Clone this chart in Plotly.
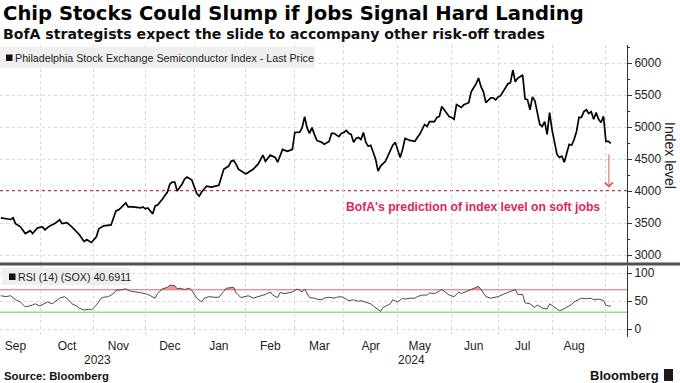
import plotly.graph_objects as go

# ---------------- data ----------------
PRICE_DATES = [
    "2023-09-08", "2023-09-12", "2023-09-14", "2023-09-15", "2023-09-18", "2023-09-20", "2023-09-22",
    "2023-09-26", "2023-09-27", "2023-09-29", "2023-10-03", "2023-10-04", "2023-10-06", "2023-10-10",
    "2023-10-12", "2023-10-13", "2023-10-17", "2023-10-19", "2023-10-23", "2023-10-24", "2023-10-26",
    "2023-10-27", "2023-10-31", "2023-11-02", "2023-11-03", "2023-11-07", "2023-11-10", "2023-11-13",
    "2023-11-14", "2023-11-15", "2023-11-16", "2023-11-20", "2023-11-21", "2023-11-24", "2023-11-28",
    "2023-11-29", "2023-11-30", "2023-12-01", "2023-12-04", "2023-12-05", "2023-12-06", "2023-12-07",
    "2023-12-08", "2023-12-12", "2023-12-13", "2023-12-14", "2023-12-15", "2023-12-18", "2023-12-19",
    "2023-12-20", "2023-12-22", "2023-12-26", "2023-12-27", "2023-12-29", "2024-01-02", "2024-01-03",
    "2024-01-04", "2024-01-05", "2024-01-09", "2024-01-11", "2024-01-16", "2024-01-17", "2024-01-19",
    "2024-01-23", "2024-01-24", "2024-01-25", "2024-01-26", "2024-01-29", "2024-02-01", "2024-02-06",
    "2024-02-08", "2024-02-12", "2024-02-13", "2024-02-15", "2024-02-20", "2024-02-21", "2024-02-23",
    "2024-02-27", "2024-02-29", "2024-03-01", "2024-03-05", "2024-03-06", "2024-03-07", "2024-03-08",
    "2024-03-11", "2024-03-12", "2024-03-13", "2024-03-14", "2024-03-18", "2024-03-19", "2024-03-21",
    "2024-03-22", "2024-03-25", "2024-03-27", "2024-03-28", "2024-04-01", "2024-04-02", "2024-04-03",
    "2024-04-04", "2024-04-05", "2024-04-08", "2024-04-09", "2024-04-10", "2024-04-11", "2024-04-12",
    "2024-04-15", "2024-04-16", "2024-04-17", "2024-04-18", "2024-04-19", "2024-04-22", "2024-04-24",
    "2024-04-25", "2024-04-29", "2024-04-30", "2024-05-01", "2024-05-02", "2024-05-03", "2024-05-06",
    "2024-05-08", "2024-05-10", "2024-05-13", "2024-05-14", "2024-05-16", "2024-05-17", "2024-05-20",
    "2024-05-22", "2024-05-23", "2024-05-24", "2024-05-28", "2024-05-30", "2024-05-31", "2024-06-03",
    "2024-06-04", "2024-06-05", "2024-06-07", "2024-06-10", "2024-06-12", "2024-06-13", "2024-06-14",
    "2024-06-17", "2024-06-18", "2024-06-20", "2024-06-21", "2024-06-24", "2024-06-26", "2024-06-27",
    "2024-06-28", "2024-07-01", "2024-07-02", "2024-07-03", "2024-07-05", "2024-07-08", "2024-07-09",
    "2024-07-10", "2024-07-11", "2024-07-12", "2024-07-15", "2024-07-16", "2024-07-17", "2024-07-18",
    "2024-07-19", "2024-07-22", "2024-07-23", "2024-07-24", "2024-07-25", "2024-07-26", "2024-07-29",
    "2024-07-30", "2024-07-31", "2024-08-01", "2024-08-02", "2024-08-05", "2024-08-06", "2024-08-07",
    "2024-08-08", "2024-08-09", "2024-08-12", "2024-08-13", "2024-08-14", "2024-08-15", "2024-08-16",
    "2024-08-19", "2024-08-20", "2024-08-21", "2024-08-22", "2024-08-23", "2024-08-26", "2024-08-27",
    "2024-08-28", "2024-08-29", "2024-08-30", "2024-09-03", "2024-09-04", "2024-09-05",
]
PRICE_VALUES = [
    3580, 3565, 3555, 3580, 3490, 3440, 3335,
    3380, 3335, 3425, 3440, 3395, 3455, 3490,
    3550, 3490, 3505, 3440, 3365, 3320, 3210,
    3240, 3195, 3285, 3410, 3455, 3470, 3582,
    3690, 3705, 3735, 3814, 3752, 3752, 3735,
    3735, 3752, 3721, 3735, 3690, 3643, 3767,
    3782, 3876, 3922, 3984, 4108, 4140, 4140,
    4000, 4108, 4186, 4217, 4170, 4060, 3960,
    3920, 3984, 4077, 4060, 4080, 4090, 4340,
    4390, 4465, 4480, 4420, 4340, 4265, 4340,
    4420, 4560, 4465, 4560, 4525, 4450, 4650,
    4620, 4650, 4915, 4920, 4990, 5160, 4990,
    4900, 4990, 4885, 4790, 4760, 4730, 4775,
    4900, 4900, 4850, 4900, 4915, 4945, 4900,
    4885, 4760, 4820, 4835, 4805, 4915, 4760,
    4700, 4715, 4605, 4495, 4310, 4390, 4465,
    4545, 4715, 4760, 4650, 4525, 4650, 4820,
    4790, 4775, 4835, 4885, 5040, 5010, 5085,
    5085, 5150, 5165, 5320, 5225, 5165, 5150,
    5120, 5350, 5305, 5350, 5380, 5550, 5610,
    5675, 5765, 5630, 5550, 5380, 5455, 5455,
    5425, 5470, 5490, 5550, 5630, 5675, 5690,
    5890, 5705, 5765, 5785, 5815, 5440, 5425,
    5270, 5470, 5410, 5195, 5040, 5010, 5085,
    4885, 5225, 4960, 4760, 4575, 4525, 4545,
    4450, 4575, 4730, 4715, 4805, 4930, 5150,
    5150, 5240, 5270, 5210, 5240, 5120, 5225,
    5120, 5070, 5165, 4775, 4775, 4745,
]

RSI_DATES = [
    "2023-09-08", "2023-09-12", "2023-09-14", "2023-09-18", "2023-09-20", "2023-09-22", "2023-09-27",
    "2023-09-28", "2023-10-02", "2023-10-04", "2023-10-05", "2023-10-09", "2023-10-11", "2023-10-12",
    "2023-10-16", "2023-10-18", "2023-10-19", "2023-10-23", "2023-10-24", "2023-10-26", "2023-10-30",
    "2023-10-31", "2023-11-02", "2023-11-06", "2023-11-07", "2023-11-09", "2023-11-13", "2023-11-14",
    "2023-11-16", "2023-11-20", "2023-11-22", "2023-11-27", "2023-11-29", "2023-12-04", "2023-12-06",
    "2023-12-07", "2023-12-08", "2023-12-12", "2023-12-14", "2023-12-15", "2023-12-19", "2023-12-20",
    "2023-12-21", "2023-12-26", "2023-12-28", "2023-12-29", "2024-01-03", "2024-01-05", "2024-01-08",
    "2024-01-10", "2024-01-12", "2024-01-17", "2024-01-19", "2024-01-22", "2024-01-25", "2024-01-26",
    "2024-01-30", "2024-02-01", "2024-02-02", "2024-02-06", "2024-02-08", "2024-02-13", "2024-02-15",
    "2024-02-16", "2024-02-21", "2024-02-22", "2024-02-26", "2024-02-28", "2024-02-29", "2024-03-04",
    "2024-03-06", "2024-03-07", "2024-03-11", "2024-03-13", "2024-03-14", "2024-03-18", "2024-03-19",
    "2024-03-21", "2024-03-25", "2024-03-26", "2024-03-28", "2024-04-02", "2024-04-03", "2024-04-05",
    "2024-04-09", "2024-04-10", "2024-04-12", "2024-04-16", "2024-04-17", "2024-04-22", "2024-04-23",
    "2024-04-26", "2024-04-29", "2024-05-01", "2024-05-03", "2024-05-06", "2024-05-08", "2024-05-10",
    "2024-05-13", "2024-05-15", "2024-05-17", "2024-05-20", "2024-05-22", "2024-05-23", "2024-05-28",
    "2024-05-30", "2024-05-31", "2024-06-04", "2024-06-06", "2024-06-07", "2024-06-11", "2024-06-13",
    "2024-06-14", "2024-06-18", "2024-06-20", "2024-06-24", "2024-06-26", "2024-06-27", "2024-07-01",
    "2024-07-03", "2024-07-05", "2024-07-09", "2024-07-11", "2024-07-12", "2024-07-16", "2024-07-17",
    "2024-07-19", "2024-07-23", "2024-07-24", "2024-07-26", "2024-07-30", "2024-07-31", "2024-08-02",
    "2024-08-06", "2024-08-07", "2024-08-09", "2024-08-13", "2024-08-14", "2024-08-16", "2024-08-19",
    "2024-08-21", "2024-08-23", "2024-08-26", "2024-08-28", "2024-08-30", "2024-09-03", "2024-09-04",
    "2024-09-05",
]
RSI_VALUES = [
    59.4, 57.8, 59.4, 52.2, 48.3, 39.4, 42.8,
    45.0, 41.1, 46.7, 48.3, 45.0, 52.2, 55.0,
    57.8, 50.6, 45.0, 41.1, 37.2, 33.9, 35.6,
    33.9, 42.8, 55.0, 56.7, 57.8, 63.3, 68.9,
    70.0, 71.7, 67.2, 66.1, 65.0, 61.7, 57.8,
    55.0, 63.3, 71.7, 74.4, 78.3, 77.2, 71.7,
    72.8, 70.6, 72.8, 68.9, 55.0, 48.3, 55.0,
    57.8, 56.7, 56.7, 67.2, 72.8, 74.4, 65.0,
    56.1, 57.8, 59.4, 55.0, 57.8, 61.7, 66.1,
    60.6, 56.1, 65.0, 63.3, 65.0, 66.1, 71.5,
    66.1, 71.5, 56.1, 55.0, 53.3, 52.2, 55.0,
    56.7, 55.0, 56.7, 57.8, 53.3, 50.6, 52.2,
    49.4, 50.6, 48.3, 45.0, 41.1, 31.7, 38.3,
    45.0, 52.2, 48.3, 55.0, 53.3, 55.0, 55.0,
    57.8, 60.6, 60.6, 64.4, 63.3, 65.0, 70.6,
    65.0, 60.6, 57.8, 66.1, 63.3, 67.2, 70.6,
    72.8, 76.1, 70.6, 57.8, 55.0, 56.1, 57.8,
    61.7, 63.3, 67.2, 70.6, 61.7, 61.7, 46.7,
    45.0, 38.3, 42.8, 37.2, 35.6, 45.0, 38.3,
    32.8, 33.9, 39.4, 43.9, 48.3, 52.2, 55.0,
    53.9, 55.0, 52.2, 53.3, 51.1, 42.2, 41.5,
    40.7,
]

BOFA_TARGET = 4000
RSI_UPPER = 70
RSI_LOWER = 30

MONTH_LABELS = ["Sep", "Oct", "Nov", "Dec", "Jan", "Feb", "Mar", "Apr", "May", "Jun", "Jul", "Aug"]
MONTH_MID = ["2023-09-18", "2023-10-17", "2023-11-15", "2023-12-15", "2024-01-17", "2024-02-15",
             "2024-03-15", "2024-04-16", "2024-05-14", "2024-06-14", "2024-07-16", "2024-08-14"]
MONTH_STARTS = ["2023-10-02", "2023-11-01", "2023-12-01", "2024-01-02", "2024-02-01", "2024-03-01",
                "2024-04-01", "2024-05-01", "2024-06-03", "2024-07-01", "2024-08-01", "2024-09-03"]
HOLIDAYS = ["2023-11-23", "2023-12-25", "2024-01-01", "2024-01-15", "2024-02-19", "2024-03-29",
            "2024-05-27", "2024-06-19", "2024-07-04", "2024-09-02"]
X_RANGE = ["2023-09-07 16:00", "2024-09-13 14:24"]

PRICE_TICKS = [3000, 3500, 4000, 4500, 5000, 5500, 6000]
RSI_TICKS = [0, 50, 100]

# ---------------- layout helpers (pixel -> paper) ----------------
W, H = 680, 383
ML, MR, MT, MB = 0, 53, 45, 46
PW = W - ML - MR
PH = H - MT - MB


def px(x):
    return (x - ML) / PW


def py(y):
    return (H - MB - y) / PH


RED = "#e0245e"
fig = go.Figure()

# RSI overbought fill
fig.add_trace(go.Scatter(x=RSI_DATES, y=[RSI_UPPER] * len(RSI_DATES), xaxis="x2", yaxis="y2",
                         mode="lines", line=dict(width=0), hoverinfo="skip", showlegend=False))
fig.add_trace(go.Scatter(x=RSI_DATES, y=[max(v, RSI_UPPER) for v in RSI_VALUES], xaxis="x2", yaxis="y2",
                         mode="lines", line=dict(width=0), fill="tonexty",
                         fillcolor="rgba(235,120,120,0.75)", hoverinfo="skip", showlegend=False))
fig.add_trace(go.Scatter(x=RSI_DATES, y=RSI_VALUES, xaxis="x2", yaxis="y2", mode="lines",
                         line=dict(color="#4a4a4a", width=1), showlegend=False))

fig.add_trace(go.Scatter(x=PRICE_DATES, y=PRICE_VALUES, xaxis="x", yaxis="y", mode="lines",
                         line=dict(color="#000000", width=1.7), showlegend=False))

rangebreaks = [dict(bounds=["sat", "mon"]), dict(values=HOLIDAYS)]
grid = dict(tickmode="array", tickvals=MONTH_STARTS, showgrid=True, gridcolor="#d9d9d9",
            griddash="dot", gridwidth=1, ticks="")
tickfont = dict(family="Liberation Sans, Arial, sans-serif", size=12, color="#222")

shapes = [
    # BofA prediction line
    dict(type="line", xref="paper", x0=0, x1=1, yref="y", y0=BOFA_TARGET, y1=BOFA_TARGET,
         line=dict(color=RED, width=2, dash="dot"), layer="between"),
    # RSI bands
    dict(type="line", xref="paper", x0=0, x1=1, yref="y2", y0=RSI_UPPER, y1=RSI_UPPER,
         line=dict(color="#e06464", width=1), layer="between"),
    dict(type="line", xref="paper", x0=0, x1=1, yref="y2", y0=RSI_LOWER, y1=RSI_LOWER,
         line=dict(color="#5cc85c", width=1), layer="between"),
    # separator between panels
    dict(type="line", xref="paper", x0=0, x1=px(W), yref="paper", y0=py(264), y1=py(264),
         line=dict(color="#505050", width=3)),
    # legend boxes
    dict(type="rect", xref="paper", yref="paper", x0=px(0), x1=px(315), y0=py(68), y1=py(47),
         fillcolor="#efefef", line=dict(width=0)),
    dict(type="rect", xref="paper", yref="paper", x0=px(6), x1=px(12.5), y0=py(61), y1=py(54.5),
         fillcolor="#111111", line=dict(width=0)),
    dict(type="rect", xref="paper", yref="paper", x0=px(2), x1=px(130), y0=py(285), y1=py(268),
         fillcolor="#efefef", line=dict(width=0)),
    dict(type="rect", xref="paper", yref="paper", x0=px(9), x1=px(15.5), y0=py(280), y1=py(273.5),
         fillcolor="#111111", line=dict(width=0)),
    # bloomberg icon
    dict(type="rect", xref="paper", yref="paper", x0=px(664), x1=px(673), y0=py(381), y1=py(369),
         fillcolor="#1a1a1a", line=dict(width=0)),
]

ann = []


def text(x, y, t, size, color="#000", family="Liberation Sans, Arial, sans-serif", xanchor="left",
         angle=0):
    ann.append(dict(xref="paper", yref="paper", x=px(x), y=py(y), text=t, showarrow=False,
                    xanchor=xanchor, yanchor="middle", textangle=angle,
                    font=dict(size=size, color=color, family=family)))


text(1, 13.5, "<b>Chip Stocks Could Slump if Jobs Signal Hard Landing</b>", 19.6, "#000", "DejaVu Sans, sans-serif")
text(1, 34.5, "<b>BofA strategists expect the slide to accompany other risk-off trades</b>", 14.1, "#111", "DejaVu Sans, sans-serif")
text(13, 57.5, "Philadelphia Stock Exchange Semiconductor Index - Last Price", 10.7, "#222")
text(15.5, 276.5, "RSI (14) (SOX) 40.6911", 10.7, "#222")
text(344, 207, "<b>BofA's prediction of index level on soft jobs</b>", 12.2, RED)
text(670, 155, "Index level", 14, "#222", xanchor="center", angle=90)
text(97, 360, "2023", 12, "#222", xanchor="center")
text(411, 360, "2024", 12, "#222", xanchor="center")
text(2, 376, "<b>Source: Bloomberg</b>", 11.3, "#111")
text(661, 375, "<b>Bloomberg</b>", 13, "#111", xanchor="right")

# red arrow toward prediction line
ann.append(dict(xref="x", yref="y", x="2024-09-04 05:00", y=4050, axref="x", ayref="y",
                ax="2024-09-04 05:00", ay=4595, text="", showarrow=True, arrowhead=4,
                arrowsize=1.6, arrowwidth=1, arrowcolor="#e05a5a"))

fig.update_layout(
    width=W, height=H, margin=dict(l=ML, r=MR, t=MT, b=MB),
    paper_bgcolor="white", plot_bgcolor="white", showlegend=False,
    xaxis=dict(type="date", domain=[0, 1], anchor="y", range=X_RANGE, rangebreaks=rangebreaks,
               tickmode="array", tickvals=MONTH_MID, ticktext=MONTH_LABELS, showticklabels=False,
               showgrid=False, ticks="", minor=grid, zeroline=False, showline=False),
    xaxis2=dict(type="date", domain=[0, 1], anchor="y2", matches="x", range=X_RANGE,
                rangebreaks=rangebreaks, tickmode="array", tickvals=MONTH_MID, ticktext=MONTH_LABELS,
                showgrid=False, ticks="", minor=grid, tickfont=tickfont, zeroline=False, showline=False),
    yaxis=dict(domain=[py(263), 1], anchor="x", side="right", range=[2875, 6281.25],
               tickmode="array", tickvals=PRICE_TICKS, showgrid=True, gridcolor="#d9d9d9",
               griddash="dot", ticks="outside", ticklen=4, tickcolor="#333", showline=True,
               linecolor="#333", linewidth=1, tickfont=tickfont, zeroline=False,
               minor=dict(dtick=250, tick0=0, ticks="outside", ticklen=2, tickcolor="#333", showgrid=False)),
    yaxis2=dict(domain=[0, py(266)], anchor="x2", side="right", range=[-14.29, 112.5],
                tickmode="array", tickvals=RSI_TICKS, showgrid=True, gridcolor="#d9d9d9",
                griddash="dot", ticks="outside", ticklen=4, tickcolor="#333", showline=True,
                linecolor="#333", linewidth=1, tickfont=tickfont, zeroline=False),
    shapes=shapes, annotations=ann,
)

fig.write_html("out.html", config={"displayModeBar": False, "staticPlot": True},
               post_script="document.body.style.margin='0';document.body.style.overflow='hidden';")
